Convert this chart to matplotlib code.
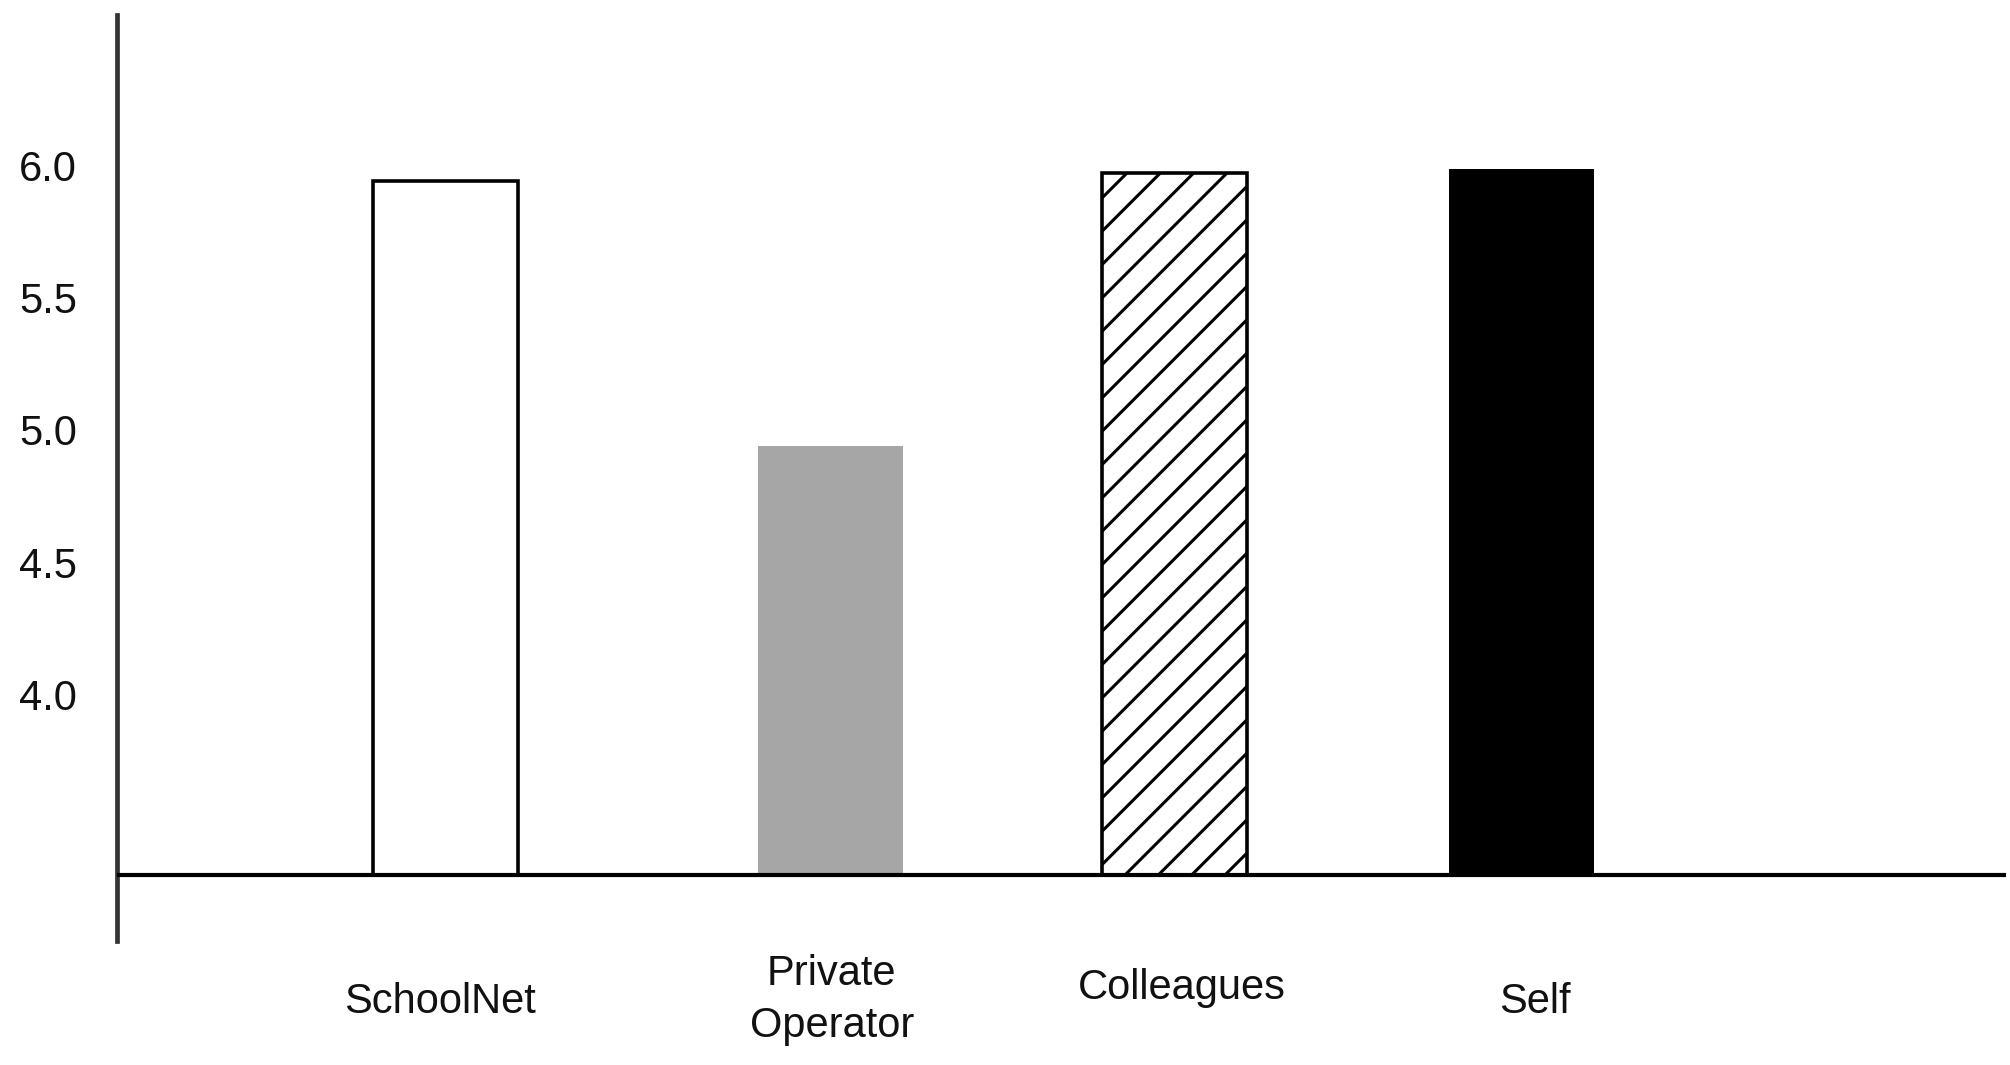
# bar chart of ratings by source
# -----------------------------------------------------------------------------
import numpy as np
import matplotlib
matplotlib.use('Agg')
import matplotlib.pyplot as plt

# -----------------------------------------------------------------------------
# data
cats = ['SchoolNet', 'Private\nOperator', 'Colleagues', 'Self']
vals = [5.94, 4.94, 5.97, 5.985]
base = 3.32  # value where the x axis crosses, bars start here
yticks = [4.0, 4.5, 5.0, 5.5, 6.0]

# -----------------------------------------------------------------------------
# layout and style
xpos = np.array([0.953, 2.067, 3.066, 4.071])  # bar centres (uneven, as drawn)
lblx = [0.936, 2.072, 3.087, 4.110]  # label centres
lbly = [2.838, 2.845, 2.891, 2.838]  # label heights (below axis)
wid = 0.42
fills = ['white', '#a6a6a6', 'white', 'black']
edges = ['black', '#a6a6a6', 'black', 'black']
hatches = [None, None, '//', None]
lws = [1.3, 0., 1.3, 0.]

plt.rcdefaults()
plt.rcParams['font.family'] = ['Liberation Sans', 'DejaVu Sans']
plt.rcParams['hatch.linewidth'] = 1.1
plt.rcParams['hatch.color'] = 'black'

fig = plt.figure(figsize=(10.05, 5.325), dpi=200)
ax = fig.add_axes([117/2010, 1-941/1065, (2006-117)/2010, (941-15)/1065])
ax.set_xlim(0., (2006-117)/345)
ax.set_ylim(3.069, 6.568)

# -----------------------------------------------------------------------------
# bars
for x, v, fc, ec, hh, lw in zip(xpos, vals, fills, edges, hatches, lws):
    ax.bar(x, v - base, bottom=base, width=wid, color=fc, edgecolor=ec,
           hatch=hh, linewidth=lw, zorder=2)

# axis lines
ax.axhline(base, color='black', linewidth=1.5, zorder=3)
for sp in ['top', 'right', 'bottom']:
    ax.spines[sp].set_visible(False)
ax.spines['left'].set_color('#333333')
ax.spines['left'].set_linewidth(1.7)

# ticks
ax.set_xticks([])
ax.set_yticks(yticks)
ax.set_yticklabels([f'{v:.1f}' for v in yticks])
ax.tick_params(axis='y', length=0, pad=14.4, labelsize=15, labelcolor='#111111')

# category labels
for x, y, c in zip(lblx, lbly, cats):
    ax.text(x, y, c, ha='center', va='center', fontsize=15, color='#111111',
            linespacing=1.38, clip_on=False)

fig.savefig('out.png', dpi=200)
